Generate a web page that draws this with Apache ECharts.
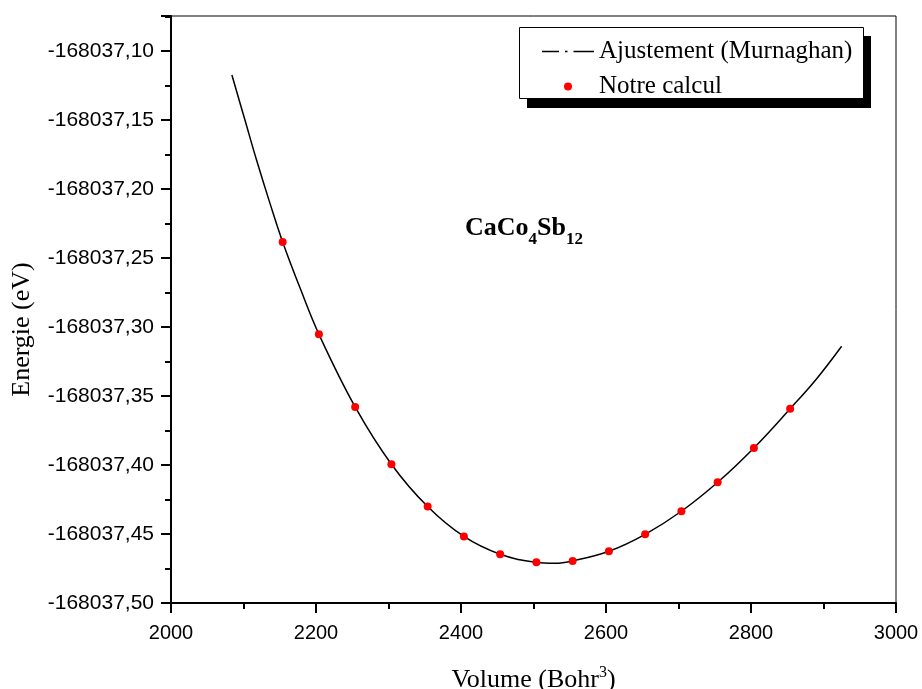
<!DOCTYPE html>
<html>
<head>
<meta charset="utf-8">
<script src="https://cdn.jsdelivr.net/npm/echarts@6/dist/echarts.min.js"></script>
<style>html,body{margin:0;padding:0;background:#fff}#c{width:922px;height:689px}</style>
</head>
<body>
<div id="c"></div>
<script>
// Calculated points (Notre calcul)
const volumes = [2154, 2204, 2254, 2304, 2354, 2404, 2454, 2504, 2554, 2604, 2654, 2704, 2754, 2804, 2854];
const energies = [-168037.2383, -168037.3052, -168037.3579, -168037.3994, -168037.4301, -168037.4518, -168037.4647,
  -168037.4705, -168037.4695, -168037.4625, -168037.4502, -168037.4335, -168037.4125, -168037.3876, -168037.3592];
// Murnaghan fit curve
const fitVolumes = [2084, 2102, 2118, 2136, 2154, 2179, 2204, 2254, 2304, 2354, 2404, 2454, 2504, 2529, 2554, 2604, 2654, 2704, 2754, 2804, 2854, 2890, 2925];
const fitEnergies = [-168037.1174, -168037.1500, -168037.1790, -168037.2095, -168037.2383, -168037.2730, -168037.3052,
  -168037.3579, -168037.3994, -168037.4301, -168037.4518, -168037.4647, -168037.4705, -168037.4712, -168037.4695,
  -168037.4625, -168037.4502, -168037.4335, -168037.4125, -168037.3876, -168037.3592, -168037.3378, -168037.3139];
const seriesNames = ['Ajustement (Murnaghan)', 'Notre calcul'];
const xTitle = 'Volume (Bohr{sup|3})';
const yTitle = 'Energie (eV)';

const chart = echarts.init(document.getElementById('c'), null, {renderer: 'canvas'});
const sans = 'Liberation Sans, Arial, sans-serif';
const serif = 'Liberation Serif, Times New Roman, serif';
chart.setOption({
  animation: false,
  backgroundColor: '#fff',
  grid: {left: 171, right: 26, top: 16, bottom: 86, show: true, borderColor: '#000', borderWidth: 1,
         backgroundColor: 'transparent', containLabel: false, outerBoundsMode: 'none'},
  xAxis: {
    type: 'value', min: 2000, max: 3000, interval: 200,
    name: xTitle, nameLocation: 'middle', nameGap: 62,
    nameTextStyle: {fontFamily: serif, fontSize: 26, color: '#000', lineHeight: 30,
      rich: {sup: {fontFamily: serif, fontSize: 16, color: '#000', verticalAlign: 'top', lineHeight: 16}}},
    axisLine: {show: true, onZero: false, lineStyle: {color: '#000', width: 2}},
    axisTick: {show: true, inside: false, length: 10, lineStyle: {color: '#000', width: 2}},
    minorTick: {show: true, splitNumber: 2, length: 6, lineStyle: {color: '#000', width: 2}},
    axisLabel: {fontFamily: sans, fontSize: 20, color: '#000', margin: 20, formatter: v => String(v)},
    splitLine: {show: false}, minorSplitLine: {show: false}
  },
  yAxis: {
    type: 'value', min: -168037.5, max: -168037.0746, interval: 0.05,
    name: yTitle, nameLocation: 'middle', nameGap: 136, nameRotate: 90,
    nameTextStyle: {fontFamily: serif, fontSize: 26, color: '#000', padding: [0, 40, 0, 0]},
    axisLine: {show: true, onZero: false, lineStyle: {color: '#000', width: 2}},
    axisTick: {show: true, inside: false, length: 10, lineStyle: {color: '#000', width: 2}},
    minorTick: {show: true, splitNumber: 2, length: 6, lineStyle: {color: '#000', width: 2}},
    axisLabel: {fontFamily: sans, fontSize: 21, color: '#000', margin: 17, showMaxLabel: false,
      formatter: v => v.toFixed(2).replace('.', ',')},
    splitLine: {show: false}, minorSplitLine: {show: false}
  },
  legend: {
    orient: 'vertical', left: 537, top: 34, itemWidth: 52, itemHeight: 8, itemGap: 10, z: 10,
    textStyle: {fontFamily: serif, fontSize: 25, lineHeight: 25, color: '#000'},
    data: [
      {name: seriesNames[0], icon: 'path://M0,0h17v1.4h-17z M23,0h2.5v1.4h-2.5z M31.5,0h20.5v1.4h-20.5z', itemStyle: {color: '#000'}},
      {name: seriesNames[1], icon: 'circle', itemStyle: {color: '#ff0000'}}
    ]
  },
  graphic: [
    {type: 'rect', z: 5, shape: {x: 527, y: 36, width: 344, height: 72}, style: {fill: '#000'}},
    {type: 'rect', z: 6, shape: {x: 519.5, y: 27.5, width: 344, height: 71}, style: {fill: '#fff', stroke: '#000', lineWidth: 1}},
    {type: 'text', z: 6, left: 465, top: 215, style: {
      text: '{m|CaCo}{s|4}{m|Sb}{s|12}',
      rich: {
        m: {fontFamily: serif, fontWeight: 'bold', fontSize: 26, lineHeight: 40, color: '#000', verticalAlign: 'middle'},
        s: {fontFamily: serif, fontWeight: 'bold', fontSize: 17, lineHeight: 18, color: '#000', verticalAlign: 'bottom'}
      }}}
  ],
  series: [
    {name: seriesNames[0], type: 'line', data: fitVolumes.map((v, i) => [v, fitEnergies[i]]),
     smooth: 0.4, symbol: 'none', lineStyle: {color: '#000', width: 1.5}, z: 3},
    {name: seriesNames[1], type: 'scatter', data: volumes.map((v, i) => [v, energies[i]]),
     symbol: 'circle', symbolSize: 8, itemStyle: {color: '#ff0000', opacity: 1}, z: 4}
  ]
});
</script>
</body>
</html>
